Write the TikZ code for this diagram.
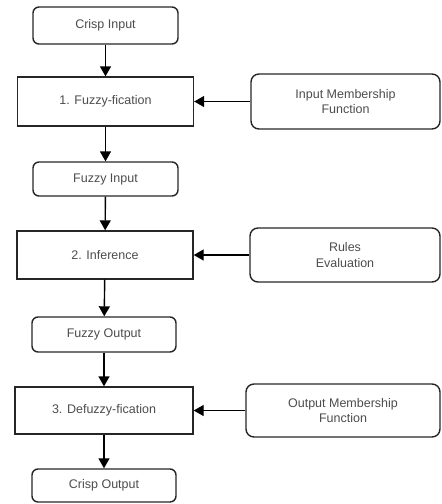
\documentclass[tikz,border=0pt]{standalone}
\usepackage{fontspec}
\setmainfont{Liberation Sans}
\usetikzlibrary{arrows.meta}
\begin{document}
\begin{tikzpicture}[x=1pt,y=-1pt,
  font=\fontsize{12.5}{15.5}\selectfont,
  rbox/.style={draw=black!85, line width=1.4pt, rounded corners=6pt, inner sep=0pt, text=black!70, align=center},
  sbox/.style={draw=black!85, line width=1.4pt, inner sep=0pt, text=black!70, align=center},
  conn/.style={draw=black, line width=1.4pt, -{Triangle[length=10pt,width=11pt]}}]
\useasboundingbox (0,0) rectangle (442,504);
\node[rbox, minimum width=145pt, minimum height=37pt] (cin) at (105.5,25.5) {Crisp Input};
\node[sbox, minimum width=176pt, minimum height=49pt] (fuz) at (105.5,101.5) {1. Fuzzy-fication};
\node[rbox, rounded corners=8pt, minimum width=189pt, minimum height=55pt] (imf) at (345.5,101.5) {Input Membership\\Function};
\node[rbox, minimum width=145pt, minimum height=34pt] (fin) at (105.5,179) {Fuzzy Input};
\node[sbox, minimum width=176pt, minimum height=48pt] (inf) at (105,255) {2. Inference};
\node[rbox, rounded corners=8pt, minimum width=190pt, minimum height=54pt] (rul) at (345,255) {Rules\\Evaluation};
\node[rbox, minimum width=144pt, minimum height=35pt] (fout) at (104,334.5) {Fuzzy Output};
\node[sbox, minimum width=178pt, minimum height=47pt] (dfz) at (104,410.5) {3. Defuzzy-fication};
\node[rbox, rounded corners=8pt, minimum width=194pt, minimum height=53pt] (omf) at (343,410.5) {Output Membership\\Function};
\node[rbox, minimum width=144pt, minimum height=33pt] (cout) at (104,485.5) {Crisp Output};
\draw[conn] (cin) -- (fuz);
\draw[conn] (fuz) -- (fin);
\draw[conn] (fin) -- (inf);
\draw[conn] (inf) -- (fout);
\draw[conn] (fout) -- (dfz);
\draw[conn] (dfz) -- (cout);
\draw[conn] (imf) -- (fuz);
\draw[conn] (rul) -- (inf);
\draw[conn] (omf) -- (dfz);
\end{tikzpicture}
\end{document}
